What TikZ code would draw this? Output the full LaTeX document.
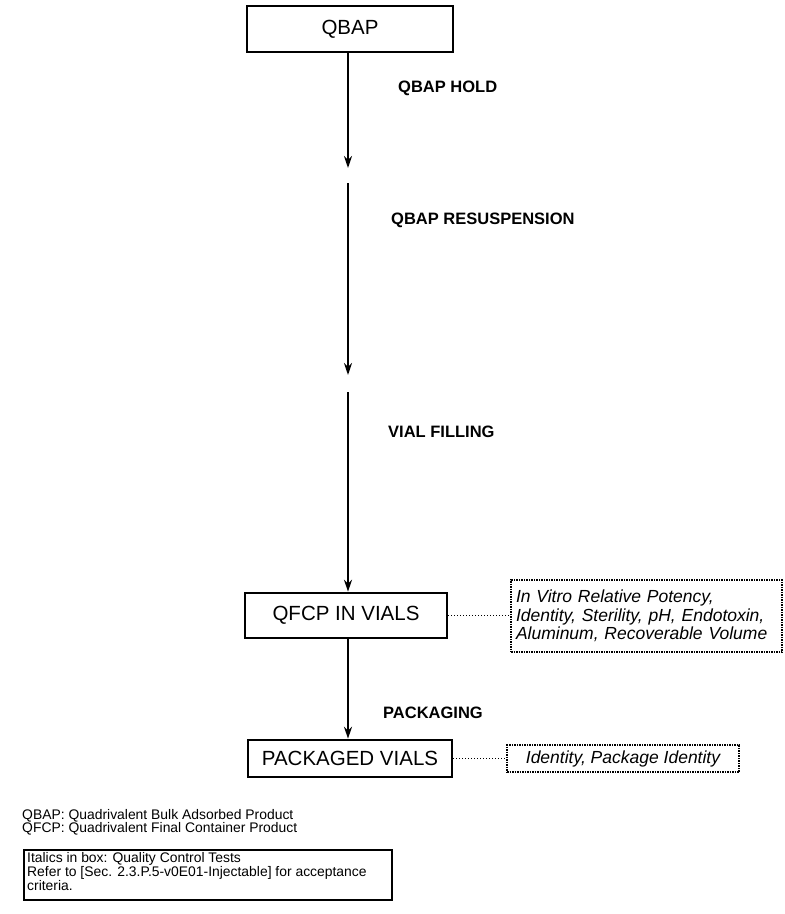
\documentclass[tikz,border=0pt]{standalone}
\usepackage{fontspec}
\setmainfont{Liberation Sans}
\usetikzlibrary{arrows.meta}
\begin{document}
\begin{tikzpicture}[x=1pt,y=-1pt,
  procbox/.style={draw, line width=2.6pt, inner sep=0pt, font=\fontsize{20.5}{24}\selectfont},
  testbox/.style={draw, line width=1.2pt, dash pattern=on 1.5pt off 1pt, inner sep=0pt,
    font=\fontsize{17.5}{18.5}\selectfont\itshape},
  steplabel/.style={anchor=west, inner sep=0pt, font=\fontsize{16.5}{18}\selectfont\bfseries},
  flow/.style={line width=1.9pt, -{Stealth[length=12pt,width=8pt]}},
  qcline/.style={line width=1pt, dash pattern=on 1pt off 2pt},
  legendtext/.style={anchor=north west, inner sep=0pt, align=left, font=\fontsize{13.9}{12.5}\selectfont}
]
\useasboundingbox (0,0) rectangle (785,914);

% process boxes
\node[procbox, minimum width=206pt, minimum height=46pt] (qbap) at (350,29) {QBAP};
\node[procbox, minimum width=202pt, minimum height=45pt] (qfcp) at (346,615.5) {QFCP IN VIALS};
\node[procbox, minimum width=204pt, minimum height=37pt] (pv) at (350,758.5) {PACKAGED VIALS};

% quality control test boxes
\node[testbox, minimum width=271pt, minimum height=72pt, align=left, text width=261pt] (qc1) at (646.5,616)
  {In Vitro Relative Potency,\\Identity, Sterility, pH, Endotoxin,\\Aluminum, Recoverable Volume};
\node[testbox, minimum width=232pt, minimum height=27pt] (qc2) at (623,758.5) {Identity, Package Identity};

% step labels
\node[steplabel] (l1) at (398,88) {QBAP HOLD};
\node[steplabel] (l2) at (391,220) {QBAP RESUSPENSION};
\node[steplabel] (l3) at (388,432) {VIAL FILLING};
\node[steplabel] (l4) at (383,713) {PACKAGING};

% arrow segments
\coordinate (t1) at (348,168);
\coordinate (s2) at (348,183);
\coordinate (t2) at (348,375);
\coordinate (s3) at (348,392);
\draw[flow] (qbap.south -| t1) -- (t1);
\draw[flow] (s2) -- (t2);
\draw[flow] (s3) -- (s3 |- qfcp.north);
\draw[flow] (s3 |- qfcp.south) -- (s3 |- pv.north);

% dotted connectors to test boxes
\draw[qcline] (qfcp.east) -- (qc1.west |- qfcp.east);
\draw[qcline] (pv.east) -- (qc2.west);

% legend
\node[legendtext] (abbr) at (22,809)
  {QBAP: Quadrivalent Bulk Adsorbed Product\\QFCP: Quadrivalent Final Container Product};
\node[draw, line width=1.4pt, minimum width=368pt, minimum height=50pt, inner sep=0pt] (legbox) at (208,875) {};
\node[legendtext] (legtxt) at (27,852)
  {Italics in box: Quality Control Tests\\Refer to [Sec. 2.3.P.5-v0E01-Injectable] for acceptance\\criteria.};
\end{tikzpicture}
\end{document}
